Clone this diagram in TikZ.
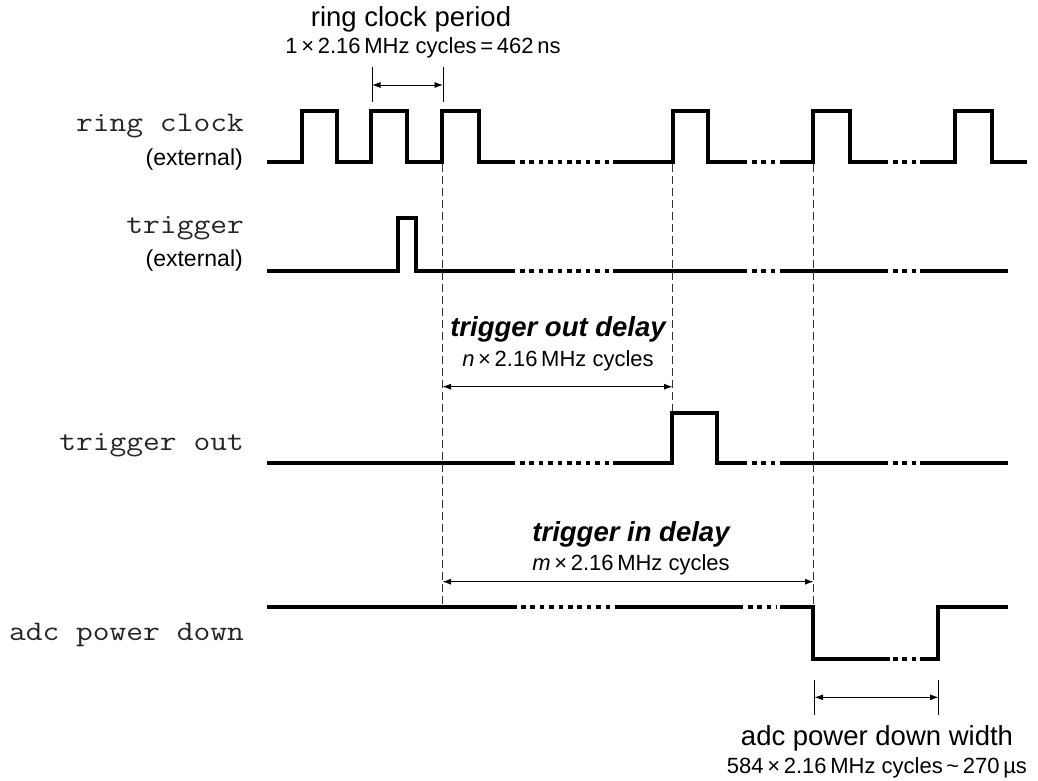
\documentclass[tikz,border=0pt]{standalone}
\usepackage{fontspec}
\setmainfont{Liberation Sans}
\newfontfamily\monofont{Latin Modern Mono}[FakeStretch=1.15]
\usetikzlibrary{arrows.meta}
\begin{document}
\begin{tikzpicture}[x=1pt,y=-1pt,
  sig/.style={line width=4pt, line join=miter, line cap=butt},
  gapdots/.style={line width=4pt, dash pattern=on 4.5pt off 4.9pt, line cap=butt},
  guide/.style={line width=0.9pt, dash pattern=on 8pt off 4pt, black!80},
  tickline/.style={line width=0.9pt},
  dim/.style={line width=0.9pt, {Latex[length=8.5pt,width=6pt]}-{Latex[length=8.5pt,width=6pt]}},
  siglabel/.style={anchor=base east, inner sep=0pt, text=black!85, font=\monofont\fontsize{28.3}{31}\selectfont},
  extlabel/.style={anchor=base east, inner sep=0pt, font=\fontsize{23}{26}\selectfont},
  ttl/.style={anchor=base, inner sep=0pt, font=\fontsize{27.5}{30}\selectfont},
  bttl/.style={anchor=base, inner sep=0pt, font=\bfseries\itshape\fontsize{27.5}{30}\selectfont},
  sub/.style={anchor=base, inner sep=0pt, font=\fontsize{22}{25}\selectfont}]
\useasboundingbox (0,0) rectangle (1038,781);

% ---- labels on the left
\node[siglabel] (lrc) at (244,131.7) {ring clock};
\node[extlabel] (lrce) at (243,165) {(external)};
\node[siglabel] (ltr) at (244,233.3) {trigger};
\node[extlabel] (ltre) at (243,266.7) {(external)};
\node[siglabel] (lto) at (244,450) {trigger out};
\node[siglabel] (lpd) at (244,640) {adc power down};

% ---- ring clock
\draw[sig] (267,162) -- (302,162) -- (302,111) -- (337,111) -- (337,162) -- (371,162) -- (371,111) -- (407,111) -- (407,162) -- (442,162) -- (442,111) -- (479,111) -- (479,162) -- (515,162);
\draw[gapdots] (520,162) -- (610,162);
\draw[sig] (613,162) -- (673,162) -- (673,111) -- (708,111) -- (708,162) -- (747,162);
\draw[gapdots] (752,162) -- (776,162);
\draw[sig] (780,162) -- (813,162) -- (813,111) -- (850,111) -- (850,162) -- (888,162);
\draw[gapdots] (893,162) -- (917,162);
\draw[sig] (920,162) -- (955,162) -- (955,111) -- (992,111) -- (992,162) -- (1027,162);

% ---- trigger
\draw[sig] (267,271) -- (398,271) -- (398,218) -- (416,218) -- (416,271) -- (515,271);
\draw[gapdots] (520,271) -- (610,271);
\draw[sig] (613,271) -- (747,271);
\draw[gapdots] (752,271) -- (776,271);
\draw[sig] (780,271) -- (888,271);
\draw[gapdots] (893,271) -- (917,271);
\draw[sig] (920,271) -- (1008,271);

% ---- trigger out
\draw[sig] (267,463) -- (515,463);
\draw[gapdots] (520,463) -- (610,463);
\draw[sig] (613,463) -- (672,463) -- (672,413) -- (717,413) -- (717,463) -- (747,463);
\draw[gapdots] (752,463) -- (776,463);
\draw[sig] (780,463) -- (888,463);
\draw[gapdots] (893,463) -- (917,463);
\draw[sig] (920,463) -- (1008,463);

% ---- adc power down
\draw[sig] (267,607) -- (517,607);
\draw[gapdots] (521,607) -- (611,607);
\draw[sig] (615,607) -- (743,607);
\draw[gapdots] (748,607) -- (777,607);
\draw[sig] (780,607) -- (813,607) -- (813,659) -- (890,659);
\draw[gapdots] (893,659) -- (917,659);
\draw[sig] (920,659) -- (938,659) -- (938,607) -- (1008,607);

% ---- dashed guides
\coordinate (g1a) at (442.5,164);
\coordinate (g1b) at (442.5,605);
\coordinate (g2a) at (672.5,164);
\coordinate (g2b) at (672.5,411);
\coordinate (g3a) at (813.5,164);
\coordinate (g3b) at (813.5,605);
\draw[guide] (g1a) -- (g1b);
\draw[guide] (g2a) -- (g2b);
\draw[guide] (g3a) -- (g3b);

% ---- ring clock period
\coordinate (t1a) at (372,67);
\coordinate (t1b) at (372,102);
\coordinate (t2a) at (443,67);
\coordinate (t2b) at (443,102);
\draw[tickline] (t1a) -- (t1b);
\draw[tickline] (t2a) -- (t2b);
\coordinate (a1l) at (372,85);
\coordinate (a1r) at (443,85);
\draw[dim] (a1l) -- (a1r);
\node[ttl] (rcp) at (411,27) {ring clock period};
\node[sub] (rcps) at (423,53.3) {1\,×\,2.16\,MHz cycles\,=\,462\,ns};

% ---- trigger out delay
\coordinate (a2l) at (442.5,386.7);
\coordinate (a2r) at (672.5,386.7);
\draw[dim] (a2l) -- (a2r);
\node[bttl] (tod) at (558,336.7) {trigger out delay};
\node[sub] (tods) at (558,366) {\textit{n}\,×\,2.16\,MHz cycles};

% ---- trigger in delay
\coordinate (a3l) at (442.5,581.7);
\coordinate (a3r) at (813.5,581.7);
\draw[dim] (a3l) -- (a3r);
\node[bttl] (tid) at (631,541.7) {trigger in delay};
\node[sub] (tids) at (631,570) {\textit{m}\,×\,2.16\,MHz cycles};

% ---- adc power down width
\coordinate (t3a) at (814.5,680);
\coordinate (t3b) at (814.5,715);
\coordinate (t4a) at (938.5,680);
\coordinate (t4b) at (938.5,715);
\draw[tickline] (t3a) -- (t3b);
\draw[tickline] (t4a) -- (t4b);
\coordinate (a4l) at (814.5,697.3);
\coordinate (a4r) at (938.5,697.3);
\draw[dim] (a4l) -- (a4r);
\node[ttl] (pdw) at (877,745) {adc power down width};
\node[sub] (pdws) at (877,773.3) {584\,×\,2.16\,MHz cycles\,\textasciitilde\,270\,µs};
\end{tikzpicture}
\end{document}
